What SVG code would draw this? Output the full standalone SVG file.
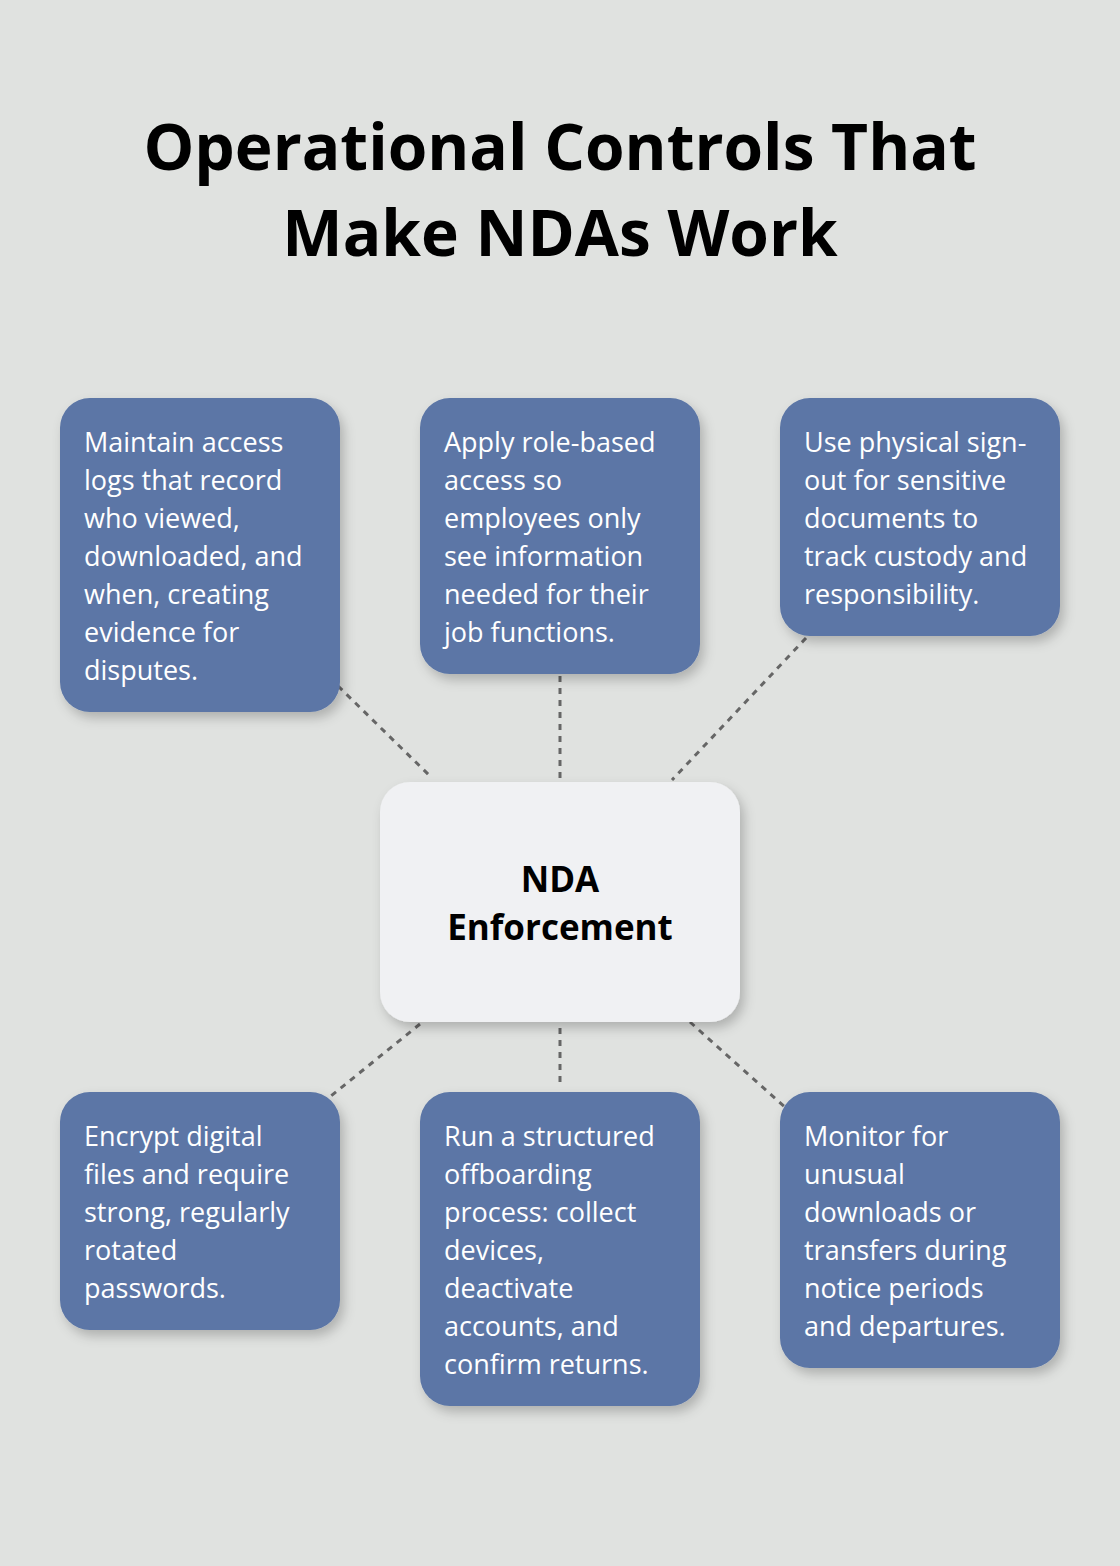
<svg xmlns="http://www.w3.org/2000/svg" width="1120" height="1566" viewBox="0 0 1120 1566">
<defs>
<filter id="sh" x="-20%" y="-20%" width="140%" height="140%"><feDropShadow dx="4" dy="6" stdDeviation="6" flood-color="#000" flood-opacity="0.22"/></filter>
<style>
.b{fill:#5b76a6;filter:url(#sh)}
.t{font-family:"Open Sans","Noto Sans",sans-serif;font-size:27px;fill:#fff}
.c{stroke:#666;stroke-width:3;stroke-dasharray:6 6;fill:none}
.h{font-family:"Open Sans","Noto Sans",sans-serif;font-weight:bold;fill:#000;text-anchor:middle}
</style>
</defs>
<rect width="1120" height="1566" fill="#e0e2e0"/>
<text class="h" font-size="64" x="560" y="170">Operational Controls That</text>
<text class="h" font-size="64" x="560" y="256">Make NDAs Work</text>
<g id="connectors">
<line class="c" x1="338" y1="686" x2="432" y2="778"/>
<line class="c" x1="560" y1="676" x2="560" y2="778"/>
<line class="c" x1="806" y1="638" x2="672" y2="780"/>
<line class="c" x1="420" y1="1024" x2="326" y2="1100"/>
<line class="c" x1="560" y1="1028" x2="560" y2="1088"/>
<line class="c" x1="690" y1="1022" x2="786" y2="1108"/>
</g>
<g id="n1"><rect class="b" x="60" y="398" width="280" height="314" rx="30"/>
<text class="t" x="84" y="452"><tspan x="84">Maintain access</tspan><tspan x="84" dy="38">logs that record</tspan><tspan x="84" dy="38">who viewed,</tspan><tspan x="84" dy="38">downloaded, and</tspan><tspan x="84" dy="38">when, creating</tspan><tspan x="84" dy="38">evidence for</tspan><tspan x="84" dy="38">disputes.</tspan></text></g>
<g id="n2"><rect class="b" x="420" y="398" width="280" height="276" rx="30"/>
<text class="t" x="444" y="452"><tspan x="444">Apply role-based</tspan><tspan x="444" dy="38">access so</tspan><tspan x="444" dy="38">employees only</tspan><tspan x="444" dy="38">see information</tspan><tspan x="444" dy="38">needed for their</tspan><tspan x="444" dy="38">job functions.</tspan></text></g>
<g id="n3"><rect class="b" x="780" y="398" width="280" height="238" rx="30"/>
<text class="t" x="804" y="452"><tspan x="804">Use physical sign-</tspan><tspan x="804" dy="38">out for sensitive</tspan><tspan x="804" dy="38">documents to</tspan><tspan x="804" dy="38">track custody and</tspan><tspan x="804" dy="38">responsibility.</tspan></text></g>
<g id="center"><rect x="380" y="782" width="360" height="240" rx="30" fill="#f0f1f3" filter="url(#sh)"/>
<text class="h" font-size="35" x="560" y="892">NDA</text><text class="h" font-size="35" x="560" y="940">Enforcement</text></g>
<g id="n4"><rect class="b" x="60" y="1092" width="280" height="238" rx="30"/>
<text class="t" x="84" y="1146"><tspan x="84">Encrypt digital</tspan><tspan x="84" dy="38">files and require</tspan><tspan x="84" dy="38">strong, regularly</tspan><tspan x="84" dy="38">rotated</tspan><tspan x="84" dy="38">passwords.</tspan></text></g>
<g id="n5"><rect class="b" x="420" y="1092" width="280" height="314" rx="30"/>
<text class="t" x="444" y="1146"><tspan x="444">Run a structured</tspan><tspan x="444" dy="38">offboarding</tspan><tspan x="444" dy="38">process: collect</tspan><tspan x="444" dy="38">devices,</tspan><tspan x="444" dy="38">deactivate</tspan><tspan x="444" dy="38">accounts, and</tspan><tspan x="444" dy="38">confirm returns.</tspan></text></g>
<g id="n6"><rect class="b" x="780" y="1092" width="280" height="276" rx="30"/>
<text class="t" x="804" y="1146"><tspan x="804">Monitor for</tspan><tspan x="804" dy="38">unusual</tspan><tspan x="804" dy="38">downloads or</tspan><tspan x="804" dy="38">transfers during</tspan><tspan x="804" dy="38">notice periods</tspan><tspan x="804" dy="38">and departures.</tspan></text></g>
</svg>
